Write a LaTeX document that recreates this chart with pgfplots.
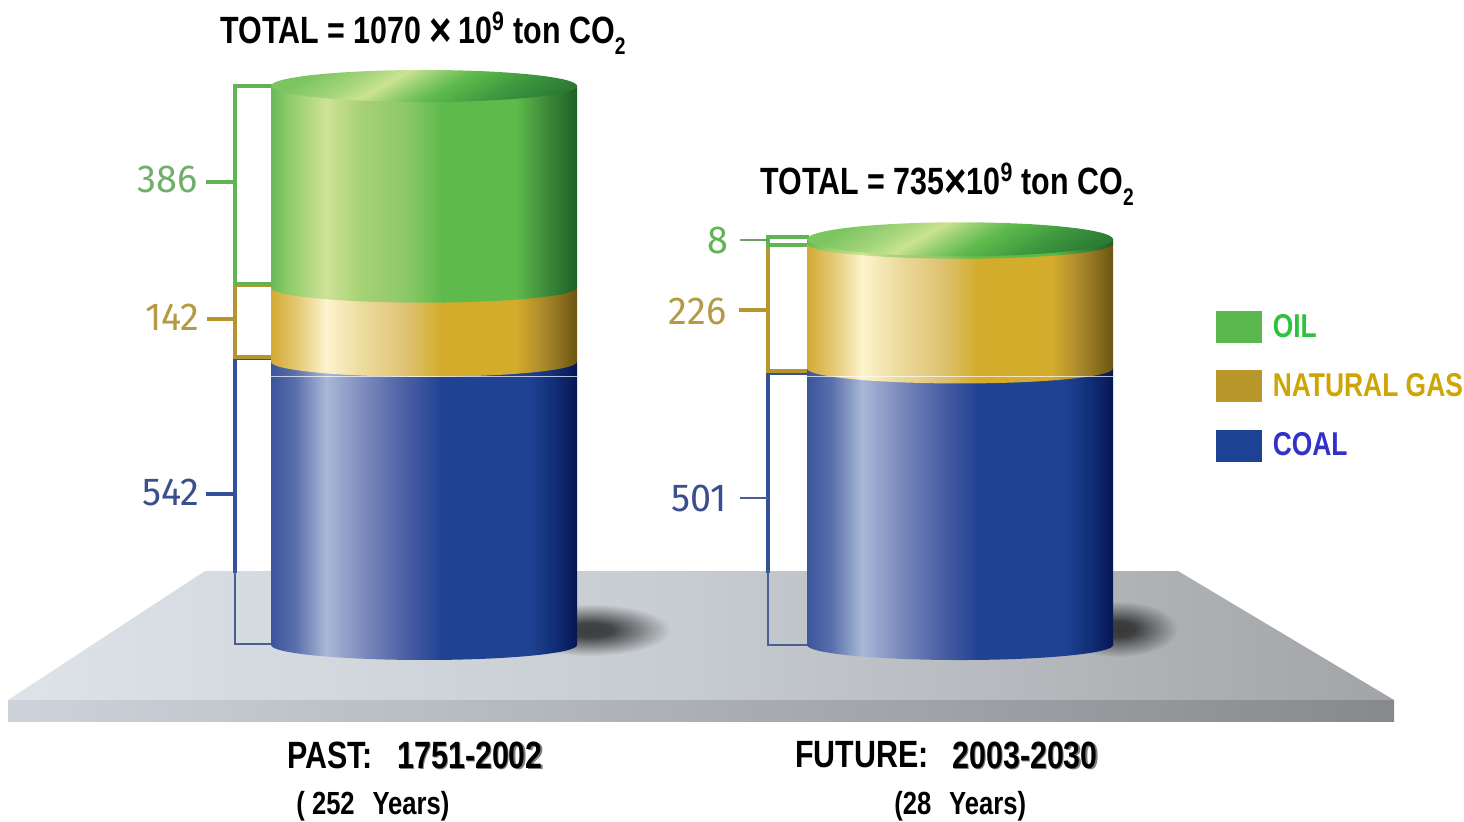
\documentclass[border=0pt]{standalone}
\usepackage{fontspec}
\usepackage{pgfplots}
\usepackage{pgfplotstable}
\pgfplotsset{compat=1.18}
\usetikzlibrary{fadings}
\setmainfont{Liberation Sans}
\newfontfamily\capfont[FakeStretch=0.80]{Liberation Sans}
\newfontfamily\numfont[FakeStretch=0.97]{Fira Sans}

% Cylinder body colours, left to right across the 25bp-75bp band
\definecolor{coalA}{HTML}{3A559C}\definecolor{coalB}{HTML}{5A70AD}\definecolor{coalC}{HTML}{A9B8D6}
\definecolor{coalD}{HTML}{7D8BBD}\definecolor{coalE}{HTML}{4A5FA3}\definecolor{coalF}{HTML}{1F4293}
\definecolor{coalG}{HTML}{123078}\definecolor{coalH}{HTML}{051656}
\pgfdeclarehorizontalshading{coalbody}{100bp}{
  color(0bp)=(coalA);color(25bp)=(coalA);color(29bp)=(coalB);color(34bp)=(coalC);color(40bp)=(coalD);
  color(47bp)=(coalE);color(53bp)=(coalF);color(67bp)=(coalF);color(71bp)=(coalG);color(75bp)=(coalH);color(100bp)=(coalH)}
\definecolor{gasA}{HTML}{D3AA33}\definecolor{gasB}{HTML}{E3C66F}\definecolor{gasC}{HTML}{FDF3CD}
\definecolor{gasD}{HTML}{ECDB9D}\definecolor{gasE}{HTML}{DFC272}\definecolor{gasF}{HTML}{D3AC2C}
\definecolor{gasG}{HTML}{A5852A}\definecolor{gasH}{HTML}{6B5510}
\pgfdeclarehorizontalshading{gasbody}{100bp}{
  color(0bp)=(gasA);color(25bp)=(gasA);color(29bp)=(gasB);color(34bp)=(gasC);color(40bp)=(gasD);
  color(47bp)=(gasE);color(53bp)=(gasF);color(65bp)=(gasF);color(70bp)=(gasG);color(75bp)=(gasH);color(100bp)=(gasH)}
\definecolor{oilA}{HTML}{69B95B}\definecolor{oilB}{HTML}{90CC6A}\definecolor{oilC}{HTML}{CFE296}
\definecolor{oilD}{HTML}{A5D174}\definecolor{oilE}{HTML}{8DC868}\definecolor{oilF}{HTML}{5EBA4B}
\definecolor{oilG}{HTML}{3D8A3A}\definecolor{oilH}{HTML}{1E5F26}
\pgfdeclarehorizontalshading{oilbody}{100bp}{
  color(0bp)=(oilA);color(25bp)=(oilA);color(28bp)=(oilB);color(34bp)=(oilC);color(40bp)=(oilD);
  color(47bp)=(oilE);color(53bp)=(oilF);color(65bp)=(oilF);color(70bp)=(oilG);color(75bp)=(oilH);color(100bp)=(oilH)}
% Lid of a cylinder, lit from the upper left
\definecolor{lidA}{HTML}{7CC561}\definecolor{lidB}{HTML}{A8D67F}\definecolor{lidC}{HTML}{CBE391}
\definecolor{lidD}{HTML}{8CCB6C}\definecolor{lidE}{HTML}{5FBA4C}\definecolor{lidF}{HTML}{3F9A40}\definecolor{lidG}{HTML}{2C7A34}
\pgfdeclarehorizontalshading{oillid}{100bp}{
  color(0bp)=(lidA);color(25bp)=(lidA);color(36bp)=(lidB);color(42bp)=(lidC);color(49bp)=(lidD);
  color(55bp)=(lidE);color(66bp)=(lidF);color(78bp)=(lidG);color(100bp)=(lidG)}
% Platform
\definecolor{topA}{HTML}{DDE3E8}\definecolor{topB}{HTML}{C6CBD0}\definecolor{topC}{HTML}{A2A4A6}
\pgfdeclarehorizontalshading{platformtop}{100bp}{
  color(0bp)=(topA);color(25bp)=(topA);color(50bp)=(topB);color(75bp)=(topC);color(100bp)=(topC)}
\definecolor{frontA}{HTML}{CDD3DA}\definecolor{frontB}{HTML}{ABAFB5}\definecolor{frontC}{HTML}{88898C}
\pgfdeclarehorizontalshading{platformfront}{100bp}{
  color(0bp)=(frontA);color(25bp)=(frontA);color(50bp)=(frontB);color(75bp)=(frontC);color(100bp)=(frontC)}

% Elliptical caps of the cylinder segments
\newcommand{\ellipsemark}[3]{%
  \pgfdeclareplotmark{#1}{%
    \pgfpathellipse{\pgfpointorigin}{\pgfqpoint{76.5pt}{0pt}}{\pgfqpoint{0pt}{#2}}%
    \pgfshadepath{#3}{0}\pgfusepath{discard}}}
\ellipsemark{capcoal}{7.5pt}{coalbody}
\ellipsemark{capgas}{7.5pt}{gasbody}
\ellipsemark{capoil}{7.5pt}{oilbody}
\pgfdeclareplotmark{lidpast}{%
  \pgfpathellipse{\pgfpointorigin}{\pgfqpoint{76.5pt}{0pt}}{\pgfqpoint{0pt}{8pt}}%
  \pgfshadepath{oillid}{-60}\pgfusepath{discard}}
\pgfdeclareplotmark{lidfuture}{%
  \pgfpathellipse{\pgfpointorigin}{\pgfqpoint{76.5pt}{0pt}}{\pgfqpoint{0pt}{8.5pt}}%
  \pgfshadepath{oillid}{-60}\pgfusepath{discard}}

% Contact shadow: dark core, long soft edge
\pgfdeclareradialshading{softfade}{\pgfpointorigin}{
  color(0bp)=(white!80!black);color(7bp)=(white!76!black);color(25bp)=(black);color(50bp)=(black)}
\pgfdeclarefading{softshadow}{\pgfuseshading{softfade}}

\definecolor{swOil}{HTML}{5BB84E}\definecolor{swGas}{HTML}{B8962A}\definecolor{swCoal}{HTML}{1C4393}
\definecolor{brOil}{HTML}{5FB552}\definecolor{brGas}{HTML}{B5952E}\definecolor{brCoal}{HTML}{33509A}
\definecolor{numOil}{HTML}{6FAE6B}\definecolor{numGas}{HTML}{B59A45}\definecolor{numCoal}{HTML}{3B4F8F}

% Emissions per fuel, in 10^9 ton CO2
\pgfplotstableread{
x   coal gas oil
424 542  142 386
}\pastdata
\pgfplotstableread{
x   coal gas oil
960 501  226 8
}\futuredata

\pgfplotsset{
  page/.style={scale only axis, width=732pt, height=410.5pt, hide axis, clip=false,
    xmin=0, xmax=1464},
  cylinder/.style={page, ybar stacked, bar width=153pt},
  pixels/.style={page, ymin=0, ymax=821, y dir=reverse},
  past/.style={ymin=-336.9, ymax=1234.6},
  future/.style={ymin=-318.8, ymax=1168.5},
  bracket/.style={no marks, line width=1.6pt, line cap=rect},
}

\newcommand{\captiontext}[3]{\node[anchor=base west, inner sep=0pt, font=\capfont\bfseries\fontsize{#3}{#3}\selectfont] at (axis cs:#1) {#2};}
\newcommand{\valuelabel}[3]{\node[anchor=east, inner sep=0pt, font=\numfont\fontsize{19.5}{20}\selectfont, text=#2] at (axis cs:#1) {#3};}
\newcommand{\timessign}{{\fontsize{24}{24}\selectfont\raisebox{-0.07em}{×}}}
\newcommand{\swatch}[1]{\addlegendimage{legend image code/.code={\fill[#1] (0pt,-7.8pt) rectangle (22.5pt,7.8pt); \path (26pt,0pt);}}}

\begin{document}
\begin{tikzpicture}
\path[use as bounding box] (0,0) rectangle (732pt,410.5pt);

% Platform, shadows, brackets, labels
\begin{axis}[pixels]
\addplot[shade, shading=platformtop, draw=none] coordinates {(205,571)(1178,571)(1394,700)(8,700)} --cycle;
\addplot[shade, shading=platformfront, draw=none] coordinates {(8,700)(1394,700)(1394,721)(8,721)} --cycle;
\fill[black!90, path fading=softshadow, fit fading=true] (axis cs:590,630) ellipse [x radius=40pt, y radius=13pt];
\fill[black!90, path fading=softshadow, fit fading=true] (axis cs:1118,629) ellipse [x radius=30pt, y radius=14pt];

% Past: brackets
\addplot[bracket, brCoal] coordinates {(271,358)(235,358)(235,571)};
\addplot[bracket, color=brCoal!70!gray, line width=1.2pt] coordinates {(235,571)(235,644)(271,644)};
\addplot[bracket, brCoal] coordinates {(208,494)(235,494)};
\addplot[bracket, brGas] coordinates {(271,357)(235,357)(235,285)(271,285)};
\addplot[bracket, brGas] coordinates {(209,319)(235,319)};
\addplot[bracket, brOil] coordinates {(271,283.5)(235,283.5)(235,86)(271,86)};
\addplot[bracket, brOil] coordinates {(208,182)(235,182)};
% Future: brackets
\addplot[bracket, brCoal] coordinates {(807,373)(768,373)(768,571)};
\addplot[bracket, color=brCoal!70!gray, line width=1.2pt] coordinates {(768,571)(768,645)(807,645)};
\addplot[bracket, color=brCoal!70!gray, line width=1.2pt] coordinates {(741,498)(768,498)};
\addplot[bracket, brGas] coordinates {(807,371)(768,371)(768,246)};
\addplot[bracket, brGas] coordinates {(741,310)(768,310)};
\addplot[bracket, brOil] coordinates {(807,245)(768,245)(768,237)(807,237)};
\addplot[bracket, color=brOil!60!gray, line width=1.1pt] coordinates {(741,240)(768,240)};

% Segment values
\valuelabel{198,179}{numOil}{386}
\valuelabel{200,317}{numGas}{142}
\valuelabel{200,492}{numCoal}{542}
\valuelabel{729,240}{brOil}{8}
\valuelabel{727,311}{numGas}{226}
\valuelabel{727,498}{numCoal}{501}

% Totals and periods
\captiontext{220,43}{TOTAL = 1070 \timessign\,10\textsuperscript{9} ton CO\raisebox{-0.3em}{\fontsize{12}{12}\selectfont 2}}{19}
\captiontext{760,194}{TOTAL = 735\timessign 10\textsuperscript{9} ton CO\raisebox{-0.3em}{\fontsize{12}{12}\selectfont 2}}{19}
\captiontext{287,768}{PAST:}{19}
\captiontext{795,767}{FUTURE:}{19}
\captiontext{398.5,769.5}{\textcolor{gray}{1751-2002}}{19}
\captiontext{953.5,769.5}{\textcolor{gray}{2003-2030}}{19}
\captiontext{397,768}{1751-2002}{19}
\captiontext{952,768}{2003-2030}{19}
\captiontext{296,814}{( 252\,\, Years)}{16}
\captiontext{894,814}{(28\,\, Years)}{16}
\end{axis}

% Past cylinder
\begin{axis}[cylinder, past]
\addplot[draw=none, shade, shading=coalbody] table[x=x, y=coal] {\pastdata};
\addplot[draw=none, shade, shading=gasbody] table[x=x, y=gas] {\pastdata};
\addplot[draw=none, shade, shading=oilbody] table[x=x, y=oil] {\pastdata};
\end{axis}
\begin{axis}[page, past]
\addplot[only marks, mark=capcoal] coordinates {(424,0)};
\addplot[only marks, mark=capgas] coordinates {(424,542)};
\addplot[only marks, mark=capoil] coordinates {(424,684)};
\addplot[only marks, mark=lidpast] coordinates {(424,1070)};
\end{axis}

% Future cylinder
\begin{axis}[cylinder, future]
\addplot[draw=none, shade, shading=coalbody] table[x=x, y=coal] {\futuredata};
\addplot[draw=none, shade, shading=gasbody] table[x=x, y=gas] {\futuredata};
\addplot[draw=none, shade, shading=oilbody] table[x=x, y=oil] {\futuredata};
\end{axis}
\begin{axis}[page, future]
\addplot[only marks, mark=capcoal] coordinates {(960,0)};
\addplot[only marks, mark=capgas] coordinates {(960,501)};
\addplot[only marks, mark=capoil] coordinates {(960,727)};
\addplot[only marks, mark=lidfuture] coordinates {(960,735)};
\end{axis}

% Thin seam across both cylinders, and the fuel legend
\begin{axis}[pixels,
  legend style={at={(axis cs:1216,310)}, anchor=north west, draw=none, fill=none,
    inner sep=0pt, outer sep=0pt, row sep=12.6pt,
    nodes={inner sep=2pt, font=\capfont\bfseries\fontsize{16.5}{16.5}\selectfont}},
  legend cell align=left]
\swatch{swOil}
\addlegendentry{\textcolor[HTML]{2FC23A}{OIL}}
\swatch{swGas}
\addlegendentry{\textcolor[HTML]{CDA504}{NATURAL GAS}}
\swatch{swCoal}
\addlegendentry{\textcolor[HTML]{3232C8}{COAL}}
\addplot[forget plot, no marks, white, opacity=0.7, line width=0.4pt] coordinates {(271,376)(577,376)};
\addplot[forget plot, no marks, white, opacity=0.7, line width=0.4pt] coordinates {(807,376)(1113,376)};
\end{axis}
\end{tikzpicture}
\end{document}
